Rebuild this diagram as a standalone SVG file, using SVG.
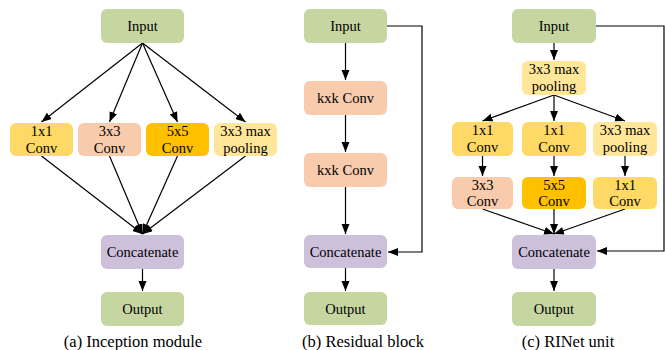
<svg xmlns="http://www.w3.org/2000/svg" width="665" height="350" viewBox="0 0 665 350">
<style>
.n rect{rx:6;ry:6}
.g{fill:#c5d6a0}.p{fill:#ccc0da}.y1{fill:#ffd966}.s{fill:#f8cbad}.o{fill:#ffc000}.y2{fill:#ffe699}
text{font-family:'Liberation Serif','Times New Roman',serif;font-size:14.5px;fill:#000;text-anchor:middle}
text.cap{font-size:16.5px}
.c line,.c polyline{stroke:#000;stroke-width:1.2;fill:none;marker-end:url(#ah)}
</style>
<defs>
<marker id="ah" markerUnits="userSpaceOnUse" markerWidth="11" markerHeight="9" refX="10" refY="4" orient="auto">
<path d="M0,0 L10,4 L0,8 z" fill="#000"/>
</marker>
</defs>
<rect width="665" height="350" fill="#fff"/>
<g class="c" id="connectors">
<line x1="142.5" y1="43" x2="41.5" y2="122"/>
<line x1="142.5" y1="43" x2="109.5" y2="122"/>
<line x1="142.5" y1="43" x2="177.5" y2="122"/>
<line x1="142.5" y1="43" x2="245.5" y2="122"/>
<line x1="41.5" y1="156" x2="142.5" y2="234"/>
<line x1="109.5" y1="156" x2="142.5" y2="234"/>
<line x1="177.5" y1="156" x2="142.5" y2="234"/>
<line x1="245.5" y1="156" x2="142.5" y2="234"/>
<line x1="142.5" y1="269" x2="142.5" y2="291"/>
<line x1="345.5" y1="43" x2="345.5" y2="80"/>
<line x1="345.5" y1="115" x2="345.5" y2="152"/>
<line x1="345.5" y1="187" x2="345.5" y2="234"/>
<line x1="345.5" y1="268" x2="345.5" y2="291"/>
<polyline points="387,26 422,26 422,252 388,252"/>
<line x1="554" y1="43" x2="554" y2="60"/>
<line x1="554" y1="95" x2="482.5" y2="121"/>
<line x1="554" y1="95" x2="554" y2="121"/>
<line x1="554" y1="95" x2="625" y2="121"/>
<line x1="482.5" y1="156" x2="482.5" y2="176"/>
<line x1="554" y1="156" x2="554" y2="176"/>
<line x1="625" y1="156" x2="625" y2="176"/>
<line x1="482.5" y1="209" x2="554" y2="234"/>
<line x1="554" y1="209" x2="554" y2="234"/>
<line x1="625" y1="209" x2="554" y2="234"/>
<line x1="554" y1="269" x2="554" y2="291"/>
<polyline points="596,26 664,26 664,251 597,251"/>
</g>
<g id="a-input" class="n"><rect class="g" x="101" y="9" width="83" height="34"/><text x="142.5" y="31">Input</text></g>
<g id="a-1x1" class="n"><rect class="y1" x="10" y="123" width="63" height="33"/><text x="41.5" y="136">1x1</text><text x="41.5" y="153">Conv</text></g>
<g id="a-3x3" class="n"><rect class="s" x="78" y="123" width="63" height="33"/><text x="109.5" y="136">3x3</text><text x="109.5" y="153">Conv</text></g>
<g id="a-5x5" class="n"><rect class="o" x="146" y="123" width="63" height="33"/><text x="177.5" y="136">5x5</text><text x="177.5" y="153">Conv</text></g>
<g id="a-pool" class="n"><rect class="y2" x="214" y="123" width="63" height="33"/><text x="245.5" y="136">3x3 max</text><text x="245.5" y="153">pooling</text></g>
<g id="a-concat" class="n"><rect class="p" x="101" y="235" width="83" height="34"/><text x="142.5" y="257">Concatenate</text></g>
<g id="a-output" class="n"><rect class="g" x="101" y="292" width="83" height="34"/><text x="142.5" y="314">Output</text></g>
<text class="cap" x="133" y="347">(a) Inception module</text>

<g id="b-input" class="n"><rect class="g" x="304" y="9" width="83" height="34"/><text x="345.5" y="31">Input</text></g>
<g id="b-conv1" class="n"><rect class="s" x="304" y="81" width="83" height="34"/><text x="345.5" y="103">kxk Conv</text></g>
<g id="b-conv2" class="n"><rect class="s" x="304" y="153" width="83" height="34"/><text x="345.5" y="175">kxk Conv</text></g>
<g id="b-concat" class="n"><rect class="p" x="304" y="235" width="83" height="33"/><text x="345.5" y="256.5">Concatenate</text></g>
<g id="b-output" class="n"><rect class="g" x="304" y="292" width="83" height="33"/><text x="345.5" y="313.5">Output</text></g>
<text class="cap" x="363" y="347">(b) Residual block</text>

<g id="c-input" class="n"><rect class="g" x="512" y="9" width="84" height="34"/><text x="554" y="31">Input</text></g>
<g id="c-pool0" class="n"><rect class="y2" x="522" y="61" width="64" height="34"/><text x="554" y="74">3x3 max</text><text x="554" y="91">pooling</text></g>
<g id="c-1x1a" class="n"><rect class="y1" x="452" y="122" width="61" height="34"/><text x="482.5" y="135">1x1</text><text x="482.5" y="152">Conv</text></g>
<g id="c-1x1b" class="n"><rect class="y1" x="522" y="122" width="64" height="34"/><text x="554" y="135">1x1</text><text x="554" y="152">Conv</text></g>
<g id="c-pool1" class="n"><rect class="y2" x="593" y="122" width="64" height="34"/><text x="625" y="135">3x3 max</text><text x="625" y="152">pooling</text></g>
<g id="c-3x3" class="n"><rect class="s" x="452" y="177" width="61" height="32"/><text x="482.5" y="190">3x3</text><text x="482.5" y="206">Conv</text></g>
<g id="c-5x5" class="n"><rect class="o" x="522" y="177" width="64" height="32"/><text x="554" y="190">5x5</text><text x="554" y="206">Conv</text></g>
<g id="c-1x1c" class="n"><rect class="y1" x="593" y="177" width="64" height="32"/><text x="625" y="190">1x1</text><text x="625" y="206">Conv</text></g>
<g id="c-concat" class="n"><rect class="p" x="512" y="235" width="84" height="34"/><text x="554" y="257">Concatenate</text></g>
<g id="c-output" class="n"><rect class="g" x="512" y="292" width="84" height="34"/><text x="554" y="314">Output</text></g>
<text class="cap" x="568" y="347">(c) RINet unit</text>
</svg>
